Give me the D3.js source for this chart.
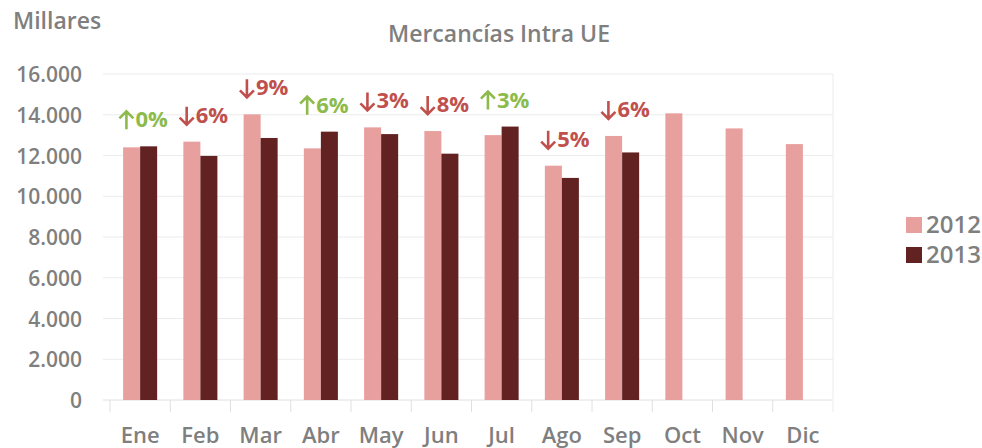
<!DOCTYPE html>
<html>
<head>
<meta charset="utf-8">
<script src="https://cdn.jsdelivr.net/npm/d3@7"></script>
<style>
  body { margin: 0; background: #fff; }
  text { font-family: "Open Sans", "Noto Sans", sans-serif; }
</style>
</head>
<body>
<div id="chart"></div>
<script>
// months and series (values in units, shown as "Millares")
const months = ['Ene', 'Feb', 'Mar', 'Abr', 'May', 'Jun', 'Jul', 'Ago', 'Sep', 'Oct', 'Nov', 'Dic'];
const years = ['2012', '2013'];
const values2012 = [12400, 12680, 14020, 12350, 13380, 13200, 13000, 11500, 12960, 14070, 13330, 12560];
const values2013 = [12450, 11980, 12860, 13170, 13050, 12090, 13420, 10900, 12150, null, null, null];
// year-on-year change labels printed above each month
const changes = [0, -6, -9, 6, -3, -8, 3, -5, -6];
const yTicks = [0, 2000, 4000, 6000, 8000, 10000, 12000, 14000, 16000];

const width = 982;
const height = 448;
const margin = { top: 74, right: 149, bottom: 48, left: 110 };
const colors = { '2012': '#e8a09e', '2013': '#632222' };
const grey = '#7f7f7f';

const svg = d3.select('#chart')
  .append('svg')
  .attr('width', width)
  .attr('height', height);

const x = d3.scaleBand()
  .domain(months)
  .range([margin.left, width - margin.right])
  .paddingInner(0)
  .paddingOuter(0);

const xSub = d3.scaleBand()
  .domain(years)
  .range([0, x.bandwidth()])
  .paddingInner(0)
  .paddingOuter(0.77);

const y = d3.scaleLinear()
  .domain([0, 16000])
  .range([height - margin.bottom, margin.top]);

const fmt = d3.formatLocale({ decimal: ',', thousands: '.', grouping: [3], currency: ['', '€'] }).format(',');

// gridlines
svg.append('g')
  .selectAll('line')
  .data(yTicks)
  .enter()
  .append('line')
  .attr('x1', margin.left - 7)
  .attr('x2', width - margin.right)
  .attr('y1', d => y(d))
  .attr('y2', d => y(d))
  .attr('stroke', d => (d === 0 ? '#e0e0e0' : '#ececec'))
  .attr('stroke-width', 1);

// plot right edge
svg.append('line')
  .attr('x1', width - margin.right)
  .attr('x2', width - margin.right)
  .attr('y1', y(16000))
  .attr('y2', y(0) + 12)
  .attr('stroke', '#ececec');

// category ticks
svg.append('g')
  .selectAll('line')
  .data(months)
  .enter()
  .append('line')
  .attr('x1', d => x(d))
  .attr('x2', d => x(d))
  .attr('y1', y(0))
  .attr('y2', y(0) + 12)
  .attr('stroke', '#e0e0e0');

// y axis labels
const yAxis = d3.axisLeft(y)
  .tickValues(yTicks)
  .tickFormat(d => fmt(d))
  .tickSize(0)
  .tickPadding(0);

svg.append('g')
  .attr('transform', `translate(${margin.left - 28}, 0)`)
  .call(yAxis)
  .call(g => g.select('.domain').remove())
  .selectAll('text')
  .attr('fill', grey)
  .style('font-size', '21px')
  .style('font-weight', 600)
  .attr('dy', '0.36em');

// x axis labels
const xAxis = d3.axisBottom(x).tickSize(0).tickPadding(0);
svg.append('g')
  .attr('transform', `translate(0, ${y(0) + 27})`)
  .call(xAxis)
  .call(g => g.select('.domain').remove())
  .selectAll('text')
  .attr('fill', grey)
  .style('font-size', '22px')
  .style('font-weight', 600)
  .attr('dy', '0.71em');

// bars
const series = years.map((yr, i) => ({
  year: yr,
  values: (i === 0 ? values2012 : values2013),
}));

series.forEach(s => {
  svg.append('g')
    .selectAll('rect')
    .data(s.values.map((v, i) => ({ month: months[i], value: v })).filter(d => d.value != null))
    .enter()
    .append('rect')
    .attr('x', d => x(d.month) + xSub(s.year))
    .attr('width', xSub.bandwidth())
    .attr('y', d => y(d.value))
    .attr('height', d => y(0) - y(d.value))
    .attr('fill', colors[s.year]);
});

// change annotations: drawn arrow + percentage
const arrowW = 16;
const labels = svg.append('g')
  .selectAll('g')
  .data(changes)
  .enter()
  .append('g')
  .attr('fill', d => (d >= 0 ? '#8cbb4b' : '#c0504d'))
  .attr('stroke', d => (d >= 0 ? '#8cbb4b' : '#c0504d'));

labels.append('path')
  .attr('fill', 'none')
  .attr('stroke-width', 2.6)
  .attr('d', d => (d >= 0
    ? 'M8,2V-16M1,-9L8,-16L15,-9'
    : 'M8,-16V2M1,-5L8,2L15,-5'));

labels.append('text')
  .attr('x', arrowW + 1)
  .attr('stroke', 'none')
  .style('font-size', '22px')
  .style('font-weight', 700)
  .text(d => `${Math.abs(d)}%`);

labels.attr('transform', function (d, i) {
  const w = arrowW + 1 + d3.select(this).select('text').node().getComputedTextLength();
  const cx = x(months[i]) + x.bandwidth() / 2 + 3;
  const by = y(Math.max(values2012[i], values2013[i])) - 19;
  return `translate(${cx - w / 2}, ${by})`;
});

// title
svg.append('text')
  .attr('x', 499)
  .attr('y', 42)
  .attr('text-anchor', 'middle')
  .attr('fill', grey)
  .style('font-size', '23px')
  .style('font-weight', 600)
  .text('Mercancías Intra UE');

svg.append('text')
  .attr('x', 13)
  .attr('y', 29)
  .attr('fill', grey)
  .style('font-size', '23px')
  .style('font-weight', 600)
  .text('Millares');

// legend
const legend = svg.append('g')
  .selectAll('g')
  .data(years)
  .enter()
  .append('g')
  .attr('transform', (d, i) => `translate(906, ${217 + i * 30})`);

legend.append('rect')
  .attr('width', 16)
  .attr('height', 16)
  .attr('fill', d => colors[d]);

legend.append('text')
  .attr('x', 20)
  .attr('y', 16)
  .attr('fill', grey)
  .style('font-size', '24px')
  .style('font-weight', 600)
  .text(d => d);
</script>
</body>
</html>
